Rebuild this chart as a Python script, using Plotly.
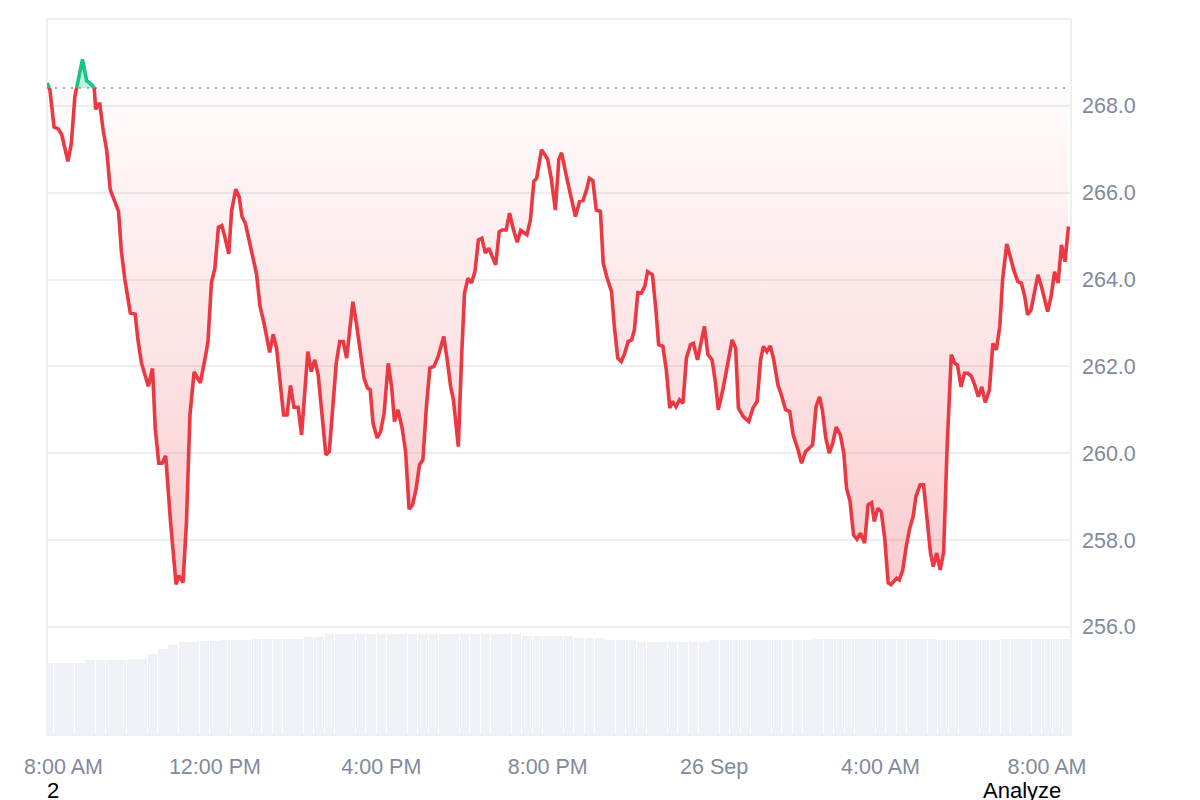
import pandas as pd
import plotly.graph_objects as go

# price path (local time, 25-26 Sep)
TIMES_SEP25 = [
    "07:58", "08:02", "08:08", "08:14", "08:19", "08:28", "08:33", "08:38", "08:41", "08:49",
    "08:55", "09:02", "09:06", "09:08", "09:12", "09:14", "09:19", "09:24", "09:29", "09:36",
    "09:41", "09:45", "09:50", "09:58", "10:05", "10:09", "10:14", "10:24", "10:30", "10:34",
    "10:39", "10:44", "10:49", "10:56", "11:04", "11:08", "11:14", "11:19", "11:24", "11:30",
    "11:34", "11:39", "11:46", "11:50", "11:55", "12:00", "12:05", "12:10", "12:14", "12:20",
    "12:24", "12:30", "12:35", "12:39", "12:44", "12:53", "13:00", "13:05", "13:11", "13:19",
    "13:24", "13:29", "13:35", "13:39", "13:44", "13:49", "13:54", "14:00", "14:05", "14:10",
    "14:14", "14:19", "14:24", "14:29", "14:35", "14:40", "14:45", "14:50", "14:55", "15:00",
    "15:05", "15:10", "15:15", "15:19", "15:24", "15:30", "15:35", "15:40", "15:44", "15:48",
    "15:54", "15:59", "16:04", "16:10", "16:15", "16:19", "16:24", "16:30", "16:35", "16:40",
    "16:45", "16:50", "16:55", "17:00", "17:05", "17:10", "17:16", "17:22", "17:30", "17:35",
    "17:40", "17:44", "17:51", "17:56", "18:00", "18:05", "18:10", "18:15", "18:20", "18:25",
    "18:30", "18:35", "18:40", "18:45", "18:50", "18:54", "19:00", "19:05", "19:10", "19:16",
    "19:21", "19:30", "19:35", "19:40", "19:44", "19:51", "19:56", "20:00", "20:05", "20:11",
    "20:16", "20:20", "20:27", "20:34", "20:40", "20:46", "20:51", "20:56", "21:00", "21:05",
    "21:10", "21:16", "21:20", "21:25", "21:32", "21:36", "21:41", "21:46", "21:51", "21:56",
    "22:01", "22:05", "22:10", "22:15", "22:20", "22:24", "22:31", "22:36", "22:40", "22:46",
    "22:51", "22:56", "23:00", "23:05", "23:10", "23:15", "23:20", "23:26", "23:30", "23:36",
    "23:41", "23:46", "23:51", "23:57",
]
PRICES_SEP25 = [
    268.53, 268.37, 267.51, 267.47, 267.34, 266.72, 267.14, 268.21, 268.45, 269.07,
    268.58, 268.49, 268.41, 267.92, 268.04, 268.04, 267.42, 266.97, 266.07, 265.78,
    265.57, 264.67, 264.01, 263.23, 263.20, 262.61, 262.08, 261.54, 261.95, 260.56,
    259.77, 259.77, 259.94, 258.42, 256.98, 257.18, 257.02, 258.42, 260.88, 261.87,
    261.75, 261.62, 262.20, 262.57, 263.93, 264.26, 265.20, 265.24, 265.00, 264.59,
    265.57, 266.08, 265.90, 265.45, 265.29, 264.67, 264.13, 263.39, 262.98, 262.32,
    262.74, 262.41, 261.38, 260.88, 260.88, 261.56, 261.06, 261.06, 260.42, 261.61,
    262.34, 261.88, 262.15, 261.80, 260.69, 259.96, 260.04, 261.07, 262.07, 262.57,
    262.57, 262.19, 262.92, 263.49, 263.00, 262.30, 261.73, 261.50, 261.46, 260.69,
    260.35, 260.50, 260.92, 262.07, 261.50, 260.73, 261.00, 260.58, 260.04, 258.71,
    258.81, 259.16, 259.73, 259.85, 261.07, 261.96, 262.00, 262.23, 262.69, 262.15,
    261.53, 261.23, 260.15, 262.30, 263.69, 264.03, 263.92, 264.18, 264.91, 264.95,
    264.61, 264.72, 264.53, 264.34, 265.10, 265.14, 265.14, 265.53, 265.18, 264.86,
    265.13, 265.03, 265.37, 266.26, 266.33, 266.99, 266.87, 266.76, 266.33, 265.60,
    266.76, 266.92, 266.37, 265.87, 265.45, 265.80, 265.82, 266.07, 266.33, 266.28,
    265.60, 265.57, 264.38, 264.07, 263.72, 262.92, 262.19, 262.11, 262.30, 262.57,
    262.61, 262.84, 263.70, 263.69, 263.84, 264.18, 264.11, 263.30, 262.50, 262.46,
    261.92, 261.04, 261.19, 261.07, 261.23, 261.15, 262.19, 262.50, 262.53, 262.15,
    262.57, 262.92, 262.27, 262.15,
]
TIMES_SEP26 = [
    "00:02", "00:06", "00:13", "00:20", "00:26", "00:31", "00:35", "00:42", "00:50", "00:56",
    "01:02", "01:07", "01:11", "01:16", "01:21", "01:26", "01:32", "01:37", "01:43", "01:49",
    "01:54", "02:01", "02:06", "02:12", "02:18", "02:22", "02:27", "02:32", "02:36", "02:41",
    "02:46", "02:51", "02:56", "03:02", "03:07", "03:11", "03:16", "03:21", "03:26", "03:31",
    "03:37", "03:42", "03:47", "03:51", "03:56", "04:01", "04:06", "04:11", "04:15", "04:23",
    "04:27", "04:32", "04:37", "04:42", "04:47", "04:51", "04:57", "05:02", "05:07", "05:12",
    "05:16", "05:21", "05:26", "05:31", "05:36", "05:42", "05:47", "05:51", "05:56", "06:01",
    "06:06", "06:11", "06:15", "06:21", "06:26", "06:31", "06:37", "06:42", "06:47", "06:52",
    "06:56", "07:02", "07:07", "07:12", "07:18", "07:23", "07:28", "07:32", "07:37", "07:42",
    "07:47", "07:52", "07:56", "08:01", "08:06", "08:11", "08:16", "08:21", "08:26", "08:31",
]
PRICES_SEP26 = [
    261.61, 261.00, 261.50, 262.15, 262.61, 262.42, 261.04, 260.84, 260.73, 261.04,
    261.19, 262.15, 262.46, 262.34, 262.47, 262.15, 261.57, 261.34, 261.00, 260.96,
    260.42, 260.08, 259.77, 260.04, 260.12, 260.19, 261.07, 261.30, 261.00, 260.35,
    260.00, 260.23, 260.60, 260.42, 260.00, 259.19, 258.89, 258.12, 258.02, 258.16,
    257.93, 258.81, 258.86, 258.43, 258.73, 258.65, 258.04, 257.01, 256.97, 257.12,
    257.08, 257.31, 257.85, 258.27, 258.54, 259.00, 259.27, 259.27, 258.50, 257.70,
    257.39, 257.70, 257.31, 257.73, 260.15, 262.27, 262.07, 262.03, 261.53, 261.84,
    261.84, 261.77, 261.61, 261.30, 261.53, 261.17, 261.46, 262.53, 262.38, 262.92,
    263.99, 264.82, 264.53, 264.22, 263.95, 263.92, 263.61, 263.19, 263.30, 263.76,
    264.11, 263.84, 263.61, 263.26, 263.61, 264.18, 263.92, 264.80, 264.41, 265.22,
]
OPEN_PRICE = 268.41

# volume, one bar every 15 min from 08:00
VOLUME_START = "2024-09-25 08:00"
VOLUME = [
    7.23, 7.23, 7.23, 7.23, 7.50, 7.50, 7.50, 7.50, 7.65, 7.65,
    8.10, 8.60, 9.00, 9.30, 9.30, 9.40, 9.40, 9.55, 9.55, 9.55,
    9.65, 9.65, 9.65, 9.65, 9.65, 9.83, 9.83, 10.07, 10.07, 10.07,
    10.07, 10.07, 10.07, 10.07, 10.07, 10.07, 10.07, 10.07, 10.07, 10.07,
    10.07, 10.07, 10.07, 10.07, 10.07, 10.07, 9.90, 9.90, 9.90, 9.90,
    9.90, 9.70, 9.70, 9.70, 9.50, 9.50, 9.50, 9.33, 9.33, 9.33,
    9.33, 9.33, 9.33, 9.33, 9.50, 9.50, 9.50, 9.50, 9.50, 9.50,
    9.50, 9.50, 9.50, 9.50, 9.65, 9.65, 9.65, 9.65, 9.65, 9.65,
    9.65, 9.65, 9.65, 9.65, 9.65, 9.65, 9.50, 9.50, 9.50, 9.50,
    9.50, 9.50, 9.65, 9.65, 9.65, 9.65, 9.65, 9.65, 9.65,
]

X_TICKS = ["2024-09-25 12:00", "2024-09-25 16:00", "2024-09-25 20:00",
           "2024-09-26 00:00", "2024-09-26 04:00", "2024-09-26 08:00"]
X_TICK_TEXT = ["12:00 PM", "4:00 PM", "8:00 PM", "26 Sep", "4:00 AM", "8:00 AM"]
Y_TICKS = [256, 258, 260, 262, 264, 266, 268]

X_RANGE = ["2024-09-25 07:57:50", "2024-09-26 08:34:40"]
Y_RANGE = [253.51, 270.0]
VOLUME_AXIS_MAX = 71.6

RED = "#ea3943"
GREEN = "#16c784"
TICK_GREY = "#808a9d"
GRID = "#eceef1"
FONT = "Liberation Sans, Arial, sans-serif"

times = pd.to_datetime(
    ["2024-09-25 " + t for t in TIMES_SEP25] + ["2024-09-26 " + t for t in TIMES_SEP26]
)
prices = PRICES_SEP25 + PRICES_SEP26
volume_times = pd.date_range(VOLUME_START, periods=len(VOLUME), freq="15min")

# the red and green parts live on two stacked y axes that split at the open price,
# so each line/fill gets clipped exactly at the dotted line
split = (OPEN_PRICE - Y_RANGE[0]) / (Y_RANGE[1] - Y_RANGE[0])

fig = go.Figure()

fig.add_trace(go.Scatter(
    x=X_RANGE, y=[OPEN_PRICE, OPEN_PRICE], mode="lines",
    line=dict(color="#8c8c8c", width=1.6, dash="2px,6px"),
    hoverinfo="skip", showlegend=False,
))
fig.add_trace(go.Bar(
    x=volume_times, y=VOLUME, width=13.9 * 60 * 1000,
    marker=dict(color="#eef1f5", line=dict(width=0)),
    yaxis="y4", hoverinfo="skip", showlegend=False,
))

fig.add_trace(go.Scatter(
    x=[times[0], times[-1]], y=[OPEN_PRICE, OPEN_PRICE], mode="lines",
    line=dict(width=0), yaxis="y2", hoverinfo="skip", showlegend=False,
))
fig.add_trace(go.Scatter(
    x=times, y=prices, mode="lines", yaxis="y2",
    line=dict(color=RED, width=3.6),
    fill="tonexty",
    fillgradient=dict(
        type="vertical",
        colorscale=[[0, "rgba(234,57,67,0.26)"], [1, "rgba(234,57,67,0.015)"]],
        start=256.8, stop=OPEN_PRICE,
    ),
    showlegend=False,
))

fig.add_trace(go.Scatter(
    x=[times[0], times[-1]], y=[OPEN_PRICE, OPEN_PRICE], mode="lines",
    line=dict(width=0), yaxis="y3", hoverinfo="skip", showlegend=False,
))
fig.add_trace(go.Scatter(
    x=times, y=prices, mode="lines", yaxis="y3",
    line=dict(color=GREEN, width=3.6),
    fill="tonexty", fillcolor="rgba(22,199,132,0.28)",
    showlegend=False,
))

annotations = [
    dict(x="2024-09-25 08:21", xref="x", y=0, yref="paper", xanchor="center", yanchor="top",
         yshift=-18, text="8:00 AM", showarrow=False,
         font=dict(family=FONT, size=21.5, color=TICK_GREY)),
    dict(x=(53 - 47) / 1024, xref="paper", y=0, yref="paper", xanchor="center",
         yanchor="middle", yshift=-55, text="2", showarrow=False,
         font=dict(family=FONT, size=22, color="#000000")),
    dict(x=(1022 - 47) / 1024, xref="paper", y=0, yref="paper", xanchor="center",
         yanchor="middle", yshift=-55, text="Analyze", showarrow=False,
         font=dict(family=FONT, size=22, color="#000000")),
]

# the page puts the figure 8px in from the top-left corner
fig.update_layout(
    width=1192,
    height=792,
    margin=dict(l=39, r=129, t=11, b=65),
    paper_bgcolor="white",
    plot_bgcolor="rgba(0,0,0,0)",
    font=dict(family=FONT, color=TICK_GREY, size=21.5),
    bargap=0,
    showlegend=False,
    annotations=annotations,
    shapes=[dict(type="rect", xref="paper", yref="paper", x0=0, x1=1, y0=0, y1=1,
                 line=dict(color="#e8eaed", width=1.5), layer="below")],
    xaxis=dict(
        type="date", range=X_RANGE, tickvals=X_TICKS, ticktext=X_TICK_TEXT,
        showgrid=False, zeroline=False, showline=False, ticks="",
        ticklabelstandoff=16, tickfont=dict(size=21.5, color=TICK_GREY),
        fixedrange=True,
    ),
    yaxis=dict(
        domain=[0, 1], range=Y_RANGE, side="right", tickvals=Y_TICKS, tickformat=".1f",
        showgrid=True, gridcolor=GRID, gridwidth=1.5, zeroline=False, showline=False, ticks="",
        ticklabelstandoff=10, tickfont=dict(size=21.5, color=TICK_GREY), fixedrange=True,
    ),
    yaxis2=dict(domain=[0, split], range=[Y_RANGE[0], OPEN_PRICE], anchor="x",
                visible=False, fixedrange=True),
    yaxis3=dict(domain=[split, 1], range=[OPEN_PRICE, Y_RANGE[1]], anchor="x",
                visible=False, fixedrange=True),
    yaxis4=dict(overlaying="y", range=[0, VOLUME_AXIS_MAX], visible=False, fixedrange=True),
)

fig.write_html("out.html")
